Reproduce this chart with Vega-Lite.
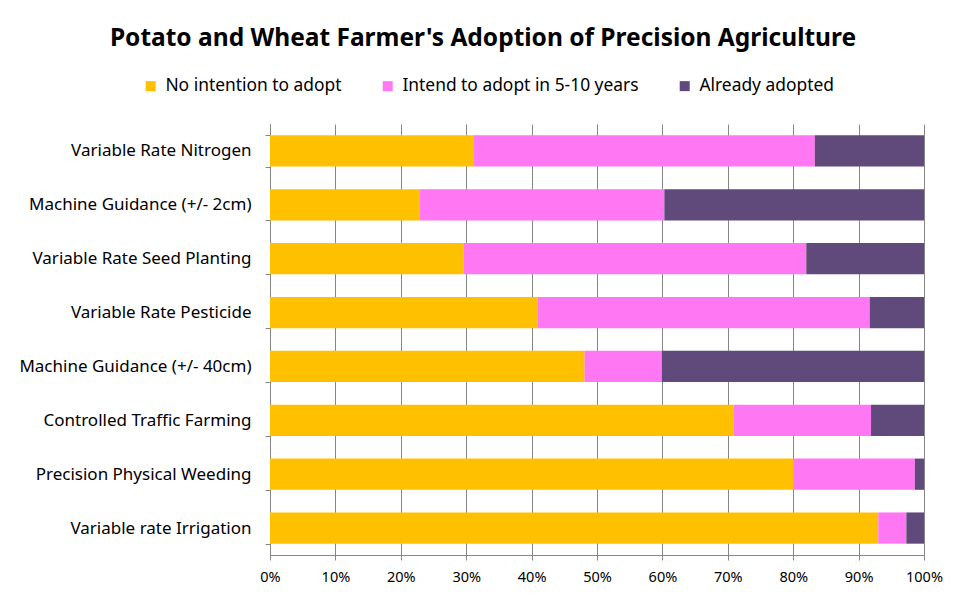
{
  "$schema": "https://vega.github.io/schema/vega-lite/v6.json",
  "width": 654,
  "height": 431,
  "autosize": {"type": "none"},
  "padding": {"left": 270, "top": 124, "right": 42, "bottom": 48},
  "background": "white",
  "title": {
    "text": "Potato and Wheat Farmer's Adoption of Precision Agriculture",
    "font": "Noto Sans",
    "fontSize": 24.5,
    "fontWeight": "bold",
    "color": "#000000",
    "anchor": "middle",
    "baseline": "alphabetic",
    "offset": 7,
    "dx": -114
  },
  "data": {
    "values": [
      {"practice": "Variable Rate Nitrogen", "status": "No intention to adopt", "rank": 1, "share": 31.2},
      {"practice": "Variable Rate Nitrogen", "status": "Intend to adopt in 5-10 years", "rank": 2, "share": 52.1},
      {"practice": "Variable Rate Nitrogen", "status": "Already adopted", "rank": 3, "share": 16.7},
      {"practice": "Machine Guidance (+/- 2cm)", "status": "No intention to adopt", "rank": 1, "share": 22.9},
      {"practice": "Machine Guidance (+/- 2cm)", "status": "Intend to adopt in 5-10 years", "rank": 2, "share": 37.4},
      {"practice": "Machine Guidance (+/- 2cm)", "status": "Already adopted", "rank": 3, "share": 39.7},
      {"practice": "Variable Rate Seed Planting", "status": "No intention to adopt", "rank": 1, "share": 29.6},
      {"practice": "Variable Rate Seed Planting", "status": "Intend to adopt in 5-10 years", "rank": 2, "share": 52.4},
      {"practice": "Variable Rate Seed Planting", "status": "Already adopted", "rank": 3, "share": 18.0},
      {"practice": "Variable Rate Pesticide", "status": "No intention to adopt", "rank": 1, "share": 40.9},
      {"practice": "Variable Rate Pesticide", "status": "Intend to adopt in 5-10 years", "rank": 2, "share": 50.8},
      {"practice": "Variable Rate Pesticide", "status": "Already adopted", "rank": 3, "share": 8.3},
      {"practice": "Machine Guidance (+/- 40cm)", "status": "No intention to adopt", "rank": 1, "share": 48.1},
      {"practice": "Machine Guidance (+/- 40cm)", "status": "Intend to adopt in 5-10 years", "rank": 2, "share": 11.8},
      {"practice": "Machine Guidance (+/- 40cm)", "status": "Already adopted", "rank": 3, "share": 40.1},
      {"practice": "Controlled Traffic Farming", "status": "No intention to adopt", "rank": 1, "share": 70.9},
      {"practice": "Controlled Traffic Farming", "status": "Intend to adopt in 5-10 years", "rank": 2, "share": 21.0},
      {"practice": "Controlled Traffic Farming", "status": "Already adopted", "rank": 3, "share": 8.1},
      {"practice": "Precision Physical Weeding", "status": "No intention to adopt", "rank": 1, "share": 80.1},
      {"practice": "Precision Physical Weeding", "status": "Intend to adopt in 5-10 years", "rank": 2, "share": 18.5},
      {"practice": "Precision Physical Weeding", "status": "Already adopted", "rank": 3, "share": 1.4},
      {"practice": "Variable rate Irrigation", "status": "No intention to adopt", "rank": 1, "share": 93.0},
      {"practice": "Variable rate Irrigation", "status": "Intend to adopt in 5-10 years", "rank": 2, "share": 4.3},
      {"practice": "Variable rate Irrigation", "status": "Already adopted", "rank": 3, "share": 2.7}
    ]
  },
  "mark": {"type": "bar"},
  "encoding": {
    "y": {
      "field": "practice",
      "type": "nominal",
      "sort": null,
      "scale": {"paddingInner": 0.42, "paddingOuter": 0.21},
      "axis": {
        "title": null,
        "domainColor": "#868686",
        "tickColor": "#868686",
        "tickSize": 5,
        "tickBand": "extent",
        "labelFont": "Noto Sans",
        "labelFontSize": 17,
        "labelColor": "#000000",
        "labelPadding": 14,
        "labelLimit": 300,
        "grid": false
      }
    },
    "x": {
      "field": "share",
      "type": "quantitative",
      "stack": "normalize",
      "scale": {"domain": [0, 1], "nice": false},
      "axis": {
        "title": null,
        "format": ".0%",
        "values": [0, 0.1, 0.2, 0.3, 0.4, 0.5, 0.6, 0.7, 0.8, 0.9, 1],
        "grid": true,
        "gridColor": "#868686",
        "gridWidth": 1,
        "domainColor": "#868686",
        "tickColor": "#868686",
        "tickSize": 5,
        "labelFont": "Noto Sans",
        "labelFontSize": 14.5,
        "labelColor": "#000000",
        "labelPadding": 10,
        "labelFlush": false
      }
    },
    "color": {
      "field": "status",
      "type": "nominal",
      "scale": {
        "domain": ["No intention to adopt", "Intend to adopt in 5-10 years", "Already adopted"],
        "range": ["#FFC000", "#FF77F3", "#604A7B"]
      },
      "legend": {
        "title": null,
        "orient": "none",
        "direction": "horizontal",
        "legendX": -128,
        "legendY": -47,
        "symbolType": "square",
        "symbolSize": 100,
        "symbolStrokeWidth": 0,
        "labelFont": "Noto Sans",
        "labelFontSize": 17.4,
        "labelColor": "#000000",
        "labelOffset": 6,
        "columnPadding": 37,
        "labelLimit": 400
      }
    },
    "order": {"field": "rank", "type": "quantitative"}
  },
  "config": {
    "view": {"stroke": null}
  }
}
